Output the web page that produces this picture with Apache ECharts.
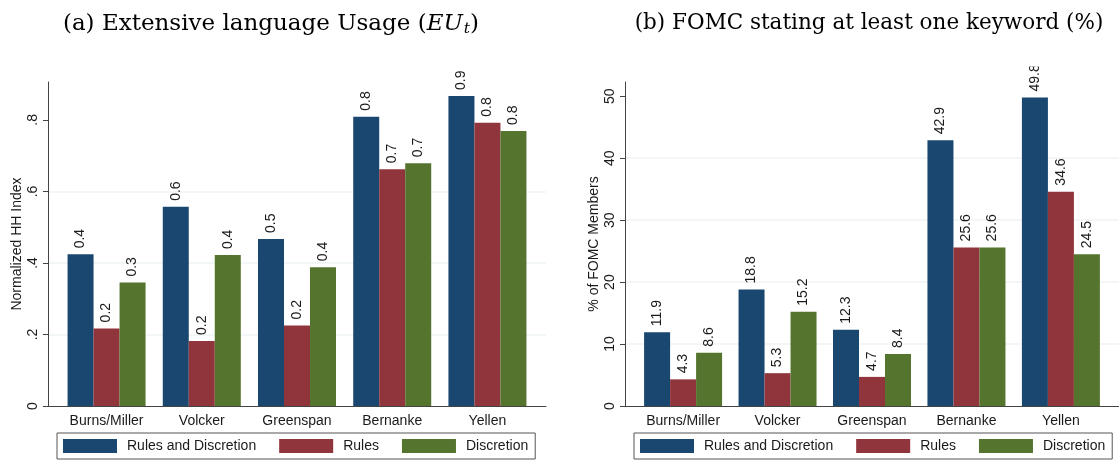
<!DOCTYPE html>
<html>
<head>
<meta charset="utf-8">
<script src="https://cdn.jsdelivr.net/npm/echarts@6/dist/echarts.min.js"></script>
<style>
html,body{margin:0;padding:0;background:#fff;}
#c{width:1119px;height:461px;}
</style>
</head>
<body>
<div id="c"></div>
<script>
const categories = ['Burns/Miller', 'Volcker', 'Greenspan', 'Bernanke', 'Yellen'];
const seriesNames = ['Rules and Discretion', 'Rules', 'Discretion'];
// Panel (a): Normalized HH index
const euBoth  = [0.424, 0.557, 0.467, 0.809, 0.867];
const euRules = [0.217, 0.182, 0.225, 0.662, 0.792];
const euDisc  = [0.345, 0.422, 0.388, 0.679, 0.769];
// Panel (b): % of FOMC members
const pctBoth  = [11.9, 18.8, 12.3, 42.9, 49.8];
const pctRules = [4.3, 5.3, 4.7, 25.6, 34.6];
const pctDisc  = [8.6, 15.2, 8.4, 25.6, 24.5];
// tick labels
const ticksA = [0, 0.2, 0.4, 0.6, 0.8];
const ticksB = [0, 10, 20, 30, 40, 50];

const colors = ['#1a476f', '#90353b', '#55752f'];
const sans = 'Liberation Sans';
const serif = 'DejaVu Serif';
const axisColor = '#444';
const gridColor = '#eef3f4';

function pts(vals) { return vals.map((v, i) => [i, v]); }

function makeSeries(gridIdx, arrays, fmt) {
  return arrays.map((arr, k) => ({
    name: seriesNames[k],
    type: 'bar',
    xAxisIndex: gridIdx,
    yAxisIndex: gridIdx,
    data: pts(arr),
    barWidth: 26,
    barGap: '0%',
    itemStyle: { color: colors[k] },
    label: {
      show: true, position: 'top', rotate: 90, align: 'left', verticalAlign: 'middle',
      distance: 6, fontFamily: sans, fontSize: 14, color: '#1a1a1a',
      formatter: p => fmt(p.value[1])
    }
  }));
}

function xAxisFor(gridIdx) {
  return {
    type: 'value', gridIndex: gridIdx, min: -0.615, max: 4.615,
    axisLine: { show: true, onZero: false, lineStyle: { color: axisColor, width: 1 } },
    axisTick: { show: false },
    splitLine: { show: false },
    axisLabel: {
      customValues: [0, 1, 2, 3, 4],
      formatter: v => categories[Math.round(v)],
      fontFamily: sans, fontSize: 14, color: '#1a1a1a', margin: 8
    }
  };
}

function yAxisFor(gridIdx, max, ticks, interval, name, fmt, nameGap) {
  return {
    type: 'value', gridIndex: gridIdx, min: 0, max: max, interval: interval,
    name: name, nameLocation: 'middle', nameGap: nameGap, nameRotate: 90,
    nameTextStyle: { fontFamily: sans, fontSize: 14, color: '#1a1a1a' },
    axisLine: { show: true, onZero: false, lineStyle: { color: axisColor, width: 1 } },
    axisTick: { show: true, customValues: ticks, length: 5, lineStyle: { color: axisColor } },
    splitLine: { show: true, showMinLine: false, showMaxLine: false, lineStyle: { color: gridColor, width: 1.5 } },
    axisLabel: {
      customValues: ticks, rotate: 90, formatter: fmt,
      fontFamily: sans, fontSize: 14, color: '#1a1a1a', margin: 8
    }
  };
}

const fmtA = v => v === 0 ? '0' : v.toFixed(1).replace(/^0/, '');
const fmtB = v => String(Math.round(v));

function legendFor(left) {
  return {
    data: seriesNames, left: left, top: 433, orient: 'horizontal',
    itemWidth: 54, itemHeight: 14, itemGap: 23, icon: 'rect',
    padding: [6, 7, 6, 6],
    borderColor: '#555', borderWidth: 1, borderRadius: 0,
    selectedMode: false,
    textStyle: { fontFamily: sans, fontSize: 14, color: '#1a1a1a', padding: [0, 0, 0, 5] }
  };
}

const titleRich = {
  i: { fontFamily: serif, fontSize: 23, fontStyle: 'italic', color: '#000' },
  s: { fontFamily: serif, fontSize: 15.5, fontStyle: 'italic', color: '#000', padding: [10, 0, 0, 1] }
};

const option = {
  animation: false,
  backgroundColor: '#fff',
  title: [
    {
      text: '(a) Extensive language Usage ({i|EU}{s|t})',
      left: 266, top: 6, textAlign: 'center',
      textStyle: { fontFamily: serif, fontSize: 23, fontWeight: 'normal', color: '#000', rich: titleRich }
    },
    {
      text: '(b) FOMC stating at least one keyword (%)',
      left: 864, top: 7, textAlign: 'center',
      textStyle: { fontFamily: serif, fontSize: 21.5, fontWeight: 'normal', color: '#000' }
    }
  ],
  legend: [legendFor(57), legendFor(634)],
  grid: [
    { left: 48, top: 82, width: 498, height: 324 },
    { left: 625, top: 82, width: 497, height: 324 }
  ],
  xAxis: [xAxisFor(0), xAxisFor(1)],
  yAxis: [
    yAxisFor(0, 0.906, ticksA, 0.2, 'Normalized HH Index', fmtA, 24),
    yAxisFor(1, 52.3, ticksB, 10, '% of FOMC Members', fmtB, 24)
  ],
  graphic: [
    { type: 'rect', left: 580, top: 45, z: 100, shape: { width: 539, height: 21.5 }, style: { fill: '#fff' } }
  ],
  series: [
    ...makeSeries(0, [euBoth, euRules, euDisc], v => v.toFixed(1)),
    ...makeSeries(1, [pctBoth, pctRules, pctDisc], v => v.toFixed(1))
  ]
};

const chart = echarts.init(document.getElementById('c'), null, { renderer: 'canvas' });
chart.setOption(option);
</script>
</body>
</html>
